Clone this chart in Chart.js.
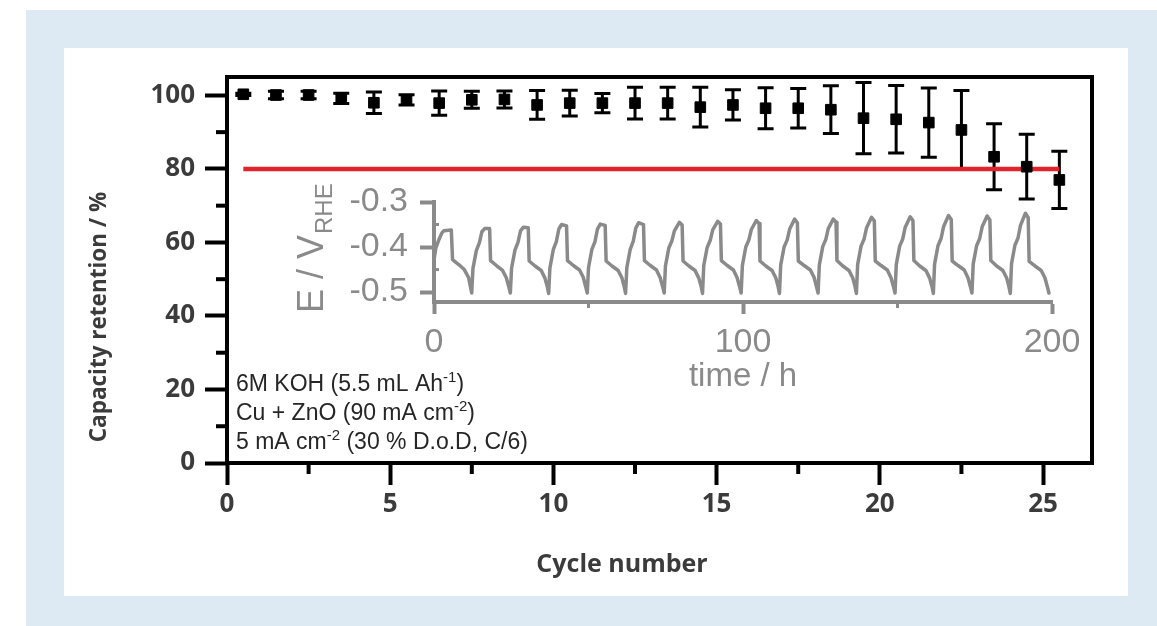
<!DOCTYPE html>
<html>
<head>
<meta charset="utf-8">
<script src="https://cdn.jsdelivr.net/npm/chart.js@4.4.1/dist/chart.umd.min.js"></script>
<style>
  html, body { margin: 0; padding: 0; width: 1157px; height: 626px; overflow: hidden; background: #ffffff; }
  #frame { position: absolute; left: 26px; top: 10px; width: 1131px; height: 616px; background: #dde9f3; }
  #panel { position: absolute; left: 64px; top: 48px; width: 1064px; height: 548px; background: #ffffff; }
  canvas { position: absolute; left: 0; top: 0; }
</style>
</head>
<body>
<div id="frame"></div>
<div id="panel"></div>
<canvas id="main" width="1157" height="626"></canvas>
<canvas id="inset" width="1157" height="626"></canvas>
<script>
// ---- Capacity retention per cycle (mean and spread) ----
const cycles = [0.5, 1.5, 2.5, 3.5, 4.5, 5.5, 6.5, 7.5, 8.5, 9.5, 10.5, 11.5, 12.5,
                13.5, 14.5, 15.5, 16.5, 17.5, 18.5, 19.5, 20.5, 21.5, 22.5, 23.5, 24.5, 25.5];
const retention = [100.3, 100.1, 100.1, 99.2, 98.0, 98.8, 97.9, 98.8, 98.9, 97.4, 97.9, 97.9, 97.9,
                   97.9, 96.8, 97.4, 96.5, 96.5, 96.1, 93.8, 93.5, 92.6, 90.6, 83.3, 80.6, 77.0];
const retentionErr = [0.3, 1.0, 1.0, 1.4, 2.9, 1.4, 3.3, 2.3, 2.3, 3.9, 3.5, 2.6, 4.3,
                      4.3, 5.4, 4.1, 5.6, 5.4, 6.5, 9.7, 9.2, 9.4, 10.7, 9.0, 8.8, 7.8];

// 80 % end-of-life line
const limitCycles = [0.5, 25.5];
const limitLevel = [80, 80];

// main axes
const cycleTicks = [0, 5, 10, 15, 20, 25];
const cycleMinor = [2.5, 7.5, 12.5, 17.5, 22.5];
const retentionTicks = [0, 20, 40, 60, 80, 100];
const retentionMinor = [10, 30, 50, 70, 90];
const cycleTitle = 'Cycle number';
const retentionTitle = 'Capacity retention / %';

// test conditions (text, superscript flag)
const notes = [
  [['6M KOH (5.5 mL Ah', 0], ['-1', 1], [')', 0]],
  [['Cu + ZnO (90 mA cm', 0], ['-2', 1], [')', 0]],
  [['5 mA cm', 0], ['-2', 1], [' (30 % D.o.D, C/6)', 0]]
];

// ---- Inset: electrode potential vs time, one row per cycle ----
const timeH = [
  [0, 0.6, 1.5, 2.6, 3.2, 5.6, 6.0, 8.2, 9.8, 11.2],
  [12.2, 12.6, 13.7, 14.7, 15.5, 16.4, 18.0, 18.3, 20.2, 22.2, 23.4, 24.2],
  [24.7, 25.1, 26.2, 27.2, 28.0, 28.9, 30.5, 30.8, 32.7, 34.7, 35.9, 36.7],
  [37.1, 37.5, 38.6, 39.6, 40.4, 41.3, 42.9, 43.2, 45.1, 47.1, 48.3, 49.1],
  [49.6, 50.0, 51.1, 52.1, 52.9, 53.8, 55.4, 55.7, 57.6, 59.6, 60.8, 61.6],
  [62.0, 62.4, 63.5, 64.5, 65.3, 66.2, 67.8, 68.1, 70.0, 72.0, 73.2, 74.0],
  [74.5, 74.9, 76.0, 77.0, 77.8, 79.4, 80.3, 80.6, 82.5, 84.5, 85.7, 86.5],
  [86.9, 87.3, 88.4, 89.4, 90.2, 91.8, 92.7, 93.0, 94.9, 96.9, 98.1, 98.9],
  [99.4, 99.8, 100.9, 101.9, 102.7, 104.3, 105.2, 105.5, 107.4, 109.4, 110.6, 111.4],
  [111.8, 112.2, 113.3, 114.3, 115.1, 116.7, 117.6, 117.9, 119.8, 121.8, 123.0, 123.8],
  [124.3, 124.7, 125.8, 126.8, 127.6, 129.2, 130.1, 130.4, 132.3, 134.3, 135.5, 136.3],
  [136.7, 137.1, 138.2, 139.2, 140.0, 141.6, 142.5, 142.8, 144.7, 146.7, 147.9, 148.7],
  [149.2, 149.6, 150.7, 151.7, 152.5, 154.1, 155.0, 155.3, 157.2, 159.2, 160.4, 161.2],
  [161.6, 162.0, 163.1, 164.1, 164.9, 166.5, 167.4, 167.7, 169.6, 171.6, 172.8, 173.6],
  [174.1, 174.5, 175.6, 176.6, 177.4, 179.0, 179.9, 180.2, 182.1, 184.1, 185.3, 186.1],
  [186.5, 186.9, 188.0, 189.0, 189.8, 191.4, 192.3, 192.6, 194.5, 196.5, 197.7, 198.5],
  [199.0]
];
const potentialV = [
  [-0.428, -0.402, -0.385, -0.368, -0.364, -0.362, -0.428, -0.440, -0.450, -0.468],
  [-0.502, -0.448, -0.408, -0.390, -0.366, -0.359, -0.359, -0.430, -0.441, -0.452, -0.468, -0.488],
  [-0.502, -0.447, -0.407, -0.389, -0.364, -0.356, -0.357, -0.431, -0.442, -0.452, -0.469, -0.489],
  [-0.503, -0.447, -0.406, -0.388, -0.360, -0.350, -0.353, -0.430, -0.441, -0.451, -0.467, -0.488],
  [-0.502, -0.446, -0.405, -0.388, -0.360, -0.349, -0.352, -0.431, -0.442, -0.452, -0.468, -0.489],
  [-0.503, -0.446, -0.405, -0.387, -0.358, -0.346, -0.350, -0.430, -0.441, -0.451, -0.468, -0.488],
  [-0.502, -0.442, -0.402, -0.386, -0.364, -0.345, -0.351, -0.431, -0.442, -0.452, -0.469, -0.489],
  [-0.503, -0.441, -0.401, -0.385, -0.362, -0.343, -0.349, -0.430, -0.441, -0.451, -0.468, -0.488],
  [-0.502, -0.441, -0.400, -0.384, -0.361, -0.341, -0.348, -0.431, -0.442, -0.452, -0.468, -0.489],
  [-0.503, -0.440, -0.400, -0.384, -0.360, -0.338, -0.346, -0.431, -0.441, -0.451, -0.467, -0.488],
  [-0.502, -0.440, -0.399, -0.383, -0.359, -0.338, -0.345, -0.430, -0.442, -0.452, -0.468, -0.489],
  [-0.503, -0.439, -0.398, -0.382, -0.357, -0.334, -0.342, -0.431, -0.441, -0.451, -0.468, -0.488],
  [-0.502, -0.439, -0.398, -0.382, -0.356, -0.333, -0.341, -0.430, -0.442, -0.452, -0.469, -0.489],
  [-0.503, -0.438, -0.397, -0.381, -0.355, -0.330, -0.339, -0.431, -0.441, -0.451, -0.468, -0.488],
  [-0.502, -0.438, -0.397, -0.381, -0.355, -0.331, -0.340, -0.430, -0.442, -0.452, -0.468, -0.489],
  [-0.503, -0.437, -0.396, -0.380, -0.352, -0.325, -0.335, -0.432, -0.442, -0.452, -0.468, -0.488],
  [-0.502]
];
const timeTicks = [0, 100, 200];
const timeMinor = [50, 150];
const potentialTicks = [-0.5, -0.4, -0.3];
const potentialTickLabels = ['-0.5', '-0.4', '-0.3'];
const potentialMinor = [-0.45, -0.35];
const timeTitle = 'time / h';
const potentialTitle = 'E / V';
const potentialSub = 'RHE';

// ---- styling ----
const BOLD = '"Open Sans", "DejaVu Sans", sans-serif';
const THIN = '"Liberation Sans", Arial, sans-serif';
const INK = '#3b3b3b';
const GREY = '#8a8a8a';

// error bars, frame, minor ticks and labels of the main plot
const mainDeco = {
  id: 'mainDeco',
  beforeDatasetsDraw(chart) {
    const { ctx, scales: { x, y } } = chart;
    ctx.save();
    ctx.strokeStyle = '#000';
    ctx.lineWidth = 3;
    cycles.forEach((c, i) => {
      const px = x.getPixelForValue(c);
      const top = y.getPixelForValue(retention[i] + retentionErr[i]);
      const bot = y.getPixelForValue(retention[i] - retentionErr[i]);
      ctx.beginPath();
      ctx.moveTo(px, top); ctx.lineTo(px, bot);
      ctx.moveTo(px - 8, top); ctx.lineTo(px + 8, top);
      ctx.moveTo(px - 8, bot); ctx.lineTo(px + 8, bot);
      ctx.stroke();
    });
    ctx.restore();
  },
  afterDraw(chart) {
    const { ctx, scales: { x, y }, chartArea: ca } = chart;
    ctx.save();
    ctx.strokeStyle = '#000';
    ctx.lineWidth = 4;
    ctx.strokeRect(ca.left, ca.top, ca.right - ca.left, ca.bottom - ca.top);
    retentionMinor.forEach(v => {
      const py = y.getPixelForValue(v);
      ctx.beginPath(); ctx.moveTo(ca.left, py); ctx.lineTo(ca.left - 11, py); ctx.stroke();
    });
    cycleMinor.forEach(v => {
      const px = x.getPixelForValue(v);
      ctx.beginPath(); ctx.moveTo(px, ca.bottom); ctx.lineTo(px, ca.bottom + 11); ctx.stroke();
    });

    // axis titles
    ctx.fillStyle = INK;
    ctx.textAlign = 'center';
    ctx.textBaseline = 'alphabetic';
    ctx.font = 'bold 25px ' + BOLD;
    ctx.fillText(cycleTitle, 622, 572);
    ctx.save();
    ctx.translate(106, 317);
    ctx.rotate(-Math.PI / 2);
    ctx.font = 'bold 22.5px ' + BOLD;
    ctx.fillText(retentionTitle, 0, 0);
    ctx.restore();

    // test conditions
    ctx.fillStyle = '#262626';
    ctx.textAlign = 'left';
    const base = [391, 420, 449];
    notes.forEach((line, li) => {
      let cx = 236;
      line.forEach(([txt, sup]) => {
        ctx.font = (sup ? '15px ' : '23px ') + THIN;
        ctx.fillText(txt, cx, base[li] - (sup ? 9 : 0));
        cx += ctx.measureText(txt).width;
      });
    });
    ctx.restore();
  }
};

new Chart(document.getElementById('main'), {
  type: 'scatter',
  data: {
    datasets: [
      {
        data: cycles.map((c, i) => ({ x: c, y: retention[i] })),
        pointStyle: 'rect',
        pointRadius: 7.5,
        pointBackgroundColor: '#000',
        pointBorderColor: '#000',
        pointBorderWidth: 1,
        order: 0
      },
      {
        data: limitCycles.map((c, i) => ({ x: c, y: limitLevel[i] })),
        showLine: true,
        borderColor: '#e1242b',
        borderWidth: 4.5,
        pointRadius: 0,
        order: 1
      }
    ]
  },
  options: {
    responsive: false,
    animation: false,
    devicePixelRatio: 1,
    layout: { padding: { top: 77, right: 65, left: 0, bottom: 0 } },
    plugins: { legend: { display: false }, tooltip: { enabled: false } },
    scales: {
      x: {
        type: 'linear', min: 0, max: 26.5,
        afterFit: s => { s.height = 163; },
        afterBuildTicks: s => { s.ticks = cycleTicks.map(v => ({ value: v })); },
        ticks: {
          font: { family: BOLD, weight: 'bold', size: 26 }, color: INK,
          padding: 4, maxRotation: 0, autoSkip: false, callback: v => String(v)
        },
        grid: { drawOnChartArea: false, drawTicks: true, tickLength: 22, tickWidth: 4, tickColor: '#000' },
        border: { display: false }
      },
      y: {
        type: 'linear', min: 0, max: 105,
        afterFit: s => { s.width = 227; },
        afterBuildTicks: s => { s.ticks = retentionTicks.map(v => ({ value: v })); },
        ticks: {
          font: { family: BOLD, weight: 'bold', size: 26 }, color: INK,
          padding: 10, autoSkip: false, callback: v => String(v)
        },
        grid: { drawOnChartArea: false, drawTicks: true, tickLength: 22, tickWidth: 4, tickColor: '#000' },
        border: { display: false }
      }
    }
  },
  plugins: [mainDeco]
});

// minor ticks and titles of the inset
const insetDeco = {
  id: 'insetDeco',
  afterDraw(chart) {
    const { ctx, scales: { x, y }, chartArea: ca } = chart;
    ctx.save();
    ctx.strokeStyle = GREY;
    ctx.lineWidth = 3;
    potentialMinor.forEach(v => {
      const py = y.getPixelForValue(v);
      ctx.beginPath(); ctx.moveTo(ca.left, py); ctx.lineTo(ca.left + 5, py); ctx.stroke();
    });
    timeMinor.forEach(v => {
      const px = x.getPixelForValue(v);
      ctx.beginPath(); ctx.moveTo(px, ca.bottom); ctx.lineTo(px, ca.bottom + 6); ctx.stroke();
    });
    ctx.fillStyle = GREY;
    ctx.textBaseline = 'alphabetic';
    ctx.textAlign = 'center';
    ctx.font = '33px ' + THIN;
    ctx.fillText(timeTitle, (ca.left + ca.right) / 2, 386);

    ctx.translate(323, 313);
    ctx.rotate(-Math.PI / 2);
    ctx.textAlign = 'left';
    ctx.font = '36px ' + THIN;
    ctx.fillText(potentialTitle, 0, 0);
    const w = ctx.measureText(potentialTitle).width;
    ctx.font = '24px ' + THIN;
    ctx.fillText(potentialSub, w + 1, 9);
    ctx.restore();
  }
};

const insetPoints = [];
timeH.forEach((row, r) => row.forEach((t, k) => insetPoints.push({ x: t, y: potentialV[r][k] })));

new Chart(document.getElementById('inset'), {
  type: 'scatter',
  data: {
    datasets: [{
      data: insetPoints,
      showLine: true,
      borderColor: GREY,
      borderWidth: 3.5,
      borderJoinStyle: 'round',
      borderCapStyle: 'round',
      pointRadius: 0,
      tension: 0
    }]
  },
  options: {
    responsive: false,
    animation: false,
    devicePixelRatio: 1,
    layout: { padding: { top: 202, right: 105, left: 0, bottom: 0 } },
    plugins: { legend: { display: false }, tooltip: { enabled: false } },
    scales: {
      x: {
        type: 'linear', min: 0, max: 200,
        afterFit: s => { s.height = 324; },
        afterBuildTicks: s => { s.ticks = timeTicks.map(v => ({ value: v })); },
        ticks: {
          font: { family: THIN, size: 34 }, color: GREY,
          padding: 8, maxRotation: 0, autoSkip: false, callback: v => String(v)
        },
        grid: { drawOnChartArea: false, drawTicks: true, tickLength: 12, tickWidth: 4, tickColor: GREY },
        border: { display: true, color: GREY, width: 4 }
      },
      y: {
        type: 'linear', min: -0.522, max: -0.3,
        afterFit: s => { s.width = 434; },
        afterBuildTicks: s => { s.ticks = potentialTicks.map(v => ({ value: v })); },
        ticks: {
          font: { family: THIN, size: 34 }, color: GREY,
          padding: 12, autoSkip: false, callback: (v, i) => potentialTickLabels[i]
        },
        grid: { drawOnChartArea: false, drawTicks: true, tickLength: 14, tickWidth: 4, tickColor: GREY },
        border: { display: true, color: GREY, width: 4 }
      }
    }
  },
  plugins: [insetDeco]
});
</script>
</body>
</html>
